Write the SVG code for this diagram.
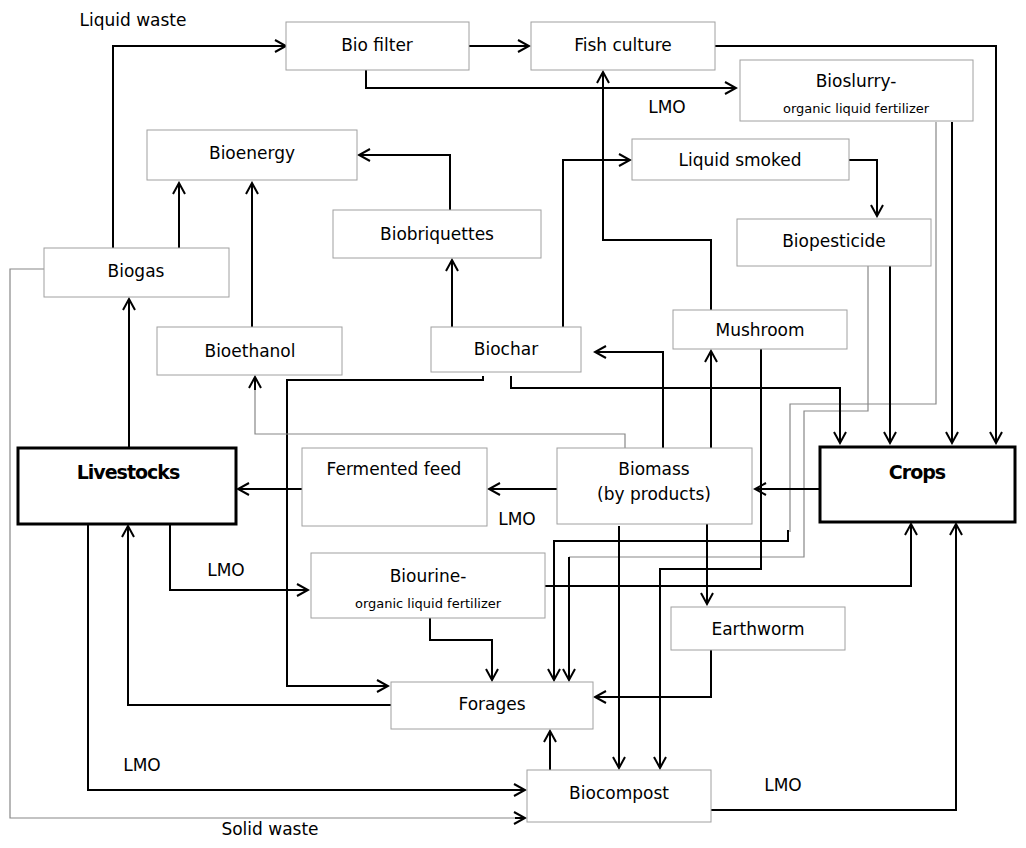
<svg xmlns="http://www.w3.org/2000/svg" width="1026" height="848" viewBox="0 0 1026 848">
<style>
.n rect{fill:#fff;stroke:#a0a0a0;stroke-width:1}
.b rect{fill:#fff;stroke:#000;stroke-width:3}
text{font-family:"DejaVu Sans",Verdana,sans-serif;font-size:17px;fill:#000;text-anchor:middle}
.s{font-size:13px}
.bt{font-weight:bold;font-size:19px;letter-spacing:-1px}
.c path{fill:none;stroke:#000;stroke-width:2}
.c path.g{stroke:#888;stroke-width:1.2}
</style>
<defs><marker id="a" markerWidth="14" markerHeight="14" refX="12" refY="7" orient="auto" markerUnits="userSpaceOnUse"><path d="M1,1 L12,7 L1,13" fill="none" stroke="#000" stroke-width="2"/></marker></defs>
<g class="c">
<path d="M113,248 V46 H286" marker-end="url(#a)"/>
<path d="M469,46 H529" marker-end="url(#a)"/>
<path d="M366,70 V88 H736" marker-end="url(#a)"/>
<path d="M715,46 H996 V443" marker-end="url(#a)"/>
<path d="M952,122 V443" marker-end="url(#a)"/>
<path class="g" d="M936,122 V404 H790 V532"/>
<path d="M788,530 V541 H554 V680" marker-end="url(#a)"/>
<path class="g" d="M868,266 V411 H804 V557 H569"/>
<path d="M569,557 V680" marker-end="url(#a)"/>
<path d="M849,160 H877 V216" marker-end="url(#a)"/>
<path d="M890,266 V443" marker-end="url(#a)"/>
<path d="M711,310 V240 H603 V72" marker-end="url(#a)"/>
<path d="M563,327 V160 H630" marker-end="url(#a)"/>
<path d="M452,327 V260" marker-end="url(#a)"/>
<path d="M450,210 V155 H359" marker-end="url(#a)"/>
<path d="M179,248 V183" marker-end="url(#a)"/>
<path d="M252,327 V183" marker-end="url(#a)"/>
<path d="M129,448 V299" marker-end="url(#a)"/>
<path d="M511,376 V388 H840 V443" marker-end="url(#a)"/>
<path d="M483,376 V380 H287 V686 H388" marker-end="url(#a)"/>
<path class="g" d="M625,448 V434 H255 V378"/>
<path d="M255,390 V377" marker-end="url(#a)"/>
<path d="M663,448 V352 H595" marker-end="url(#a)"/>
<path d="M711,448 V351" marker-end="url(#a)"/>
<path d="M820,489 H755" marker-end="url(#a)"/>
<path d="M557,489 H489" marker-end="url(#a)"/>
<path d="M302,489 H238" marker-end="url(#a)"/>
<path d="M170,524 V590 H308" marker-end="url(#a)"/>
<path d="M545,586 H911 V524" marker-end="url(#a)"/>
<path d="M430,618 V640 H492 V680" marker-end="url(#a)"/>
<path d="M391,705 H128 V526" marker-end="url(#a)"/>
<path d="M88,524 V790 H525" marker-end="url(#a)"/>
<path d="M550,770 V731" marker-end="url(#a)"/>
<path d="M711,650 V697 H595" marker-end="url(#a)"/>
<path d="M707,524 V604" marker-end="url(#a)"/>
<path d="M619,526 V768" marker-end="url(#a)"/>
<path d="M761,349 V569 H660 V768" marker-end="url(#a)"/>
<path d="M711,810 H956 V524" marker-end="url(#a)"/>
<path class="g" d="M44,269 H10 V818 H520"/>
<path d="M515,818 H525" marker-end="url(#a)"/>
</g>
<g id="biofilter" class="n"><rect x="286" y="22" width="183" height="48"/><text x="377" y="51">Bio filter</text></g>
<g id="fish" class="n"><rect x="531" y="22" width="184" height="48"/><text x="623" y="51">Fish culture</text></g>
<g id="bioslurry" class="n"><rect x="740" y="60" width="233" height="61"/><text x="856" y="87">Bioslurry-</text><text class="s" x="856" y="113">organic liquid fertilizer</text></g>
<g id="bioenergy" class="n"><rect x="147" y="130" width="210" height="50"/><text x="252" y="159">Bioenergy</text></g>
<g id="liquidsmoked" class="n"><rect x="632" y="139" width="217" height="41"/><text x="740" y="166">Liquid smoked</text></g>
<g id="biobriquettes" class="n"><rect x="333" y="210" width="208" height="48"/><text x="437" y="240">Biobriquettes</text></g>
<g id="biopesticide" class="n"><rect x="737" y="219" width="194" height="47"/><text x="834" y="247">Biopesticide</text></g>
<g id="biogas" class="n"><rect x="44" y="248" width="185" height="49"/><text x="136" y="277">Biogas</text></g>
<g id="mushroom" class="n"><rect x="673" y="310" width="174" height="39"/><text x="760" y="336">Mushroom</text></g>
<g id="bioethanol" class="n"><rect x="157" y="327" width="185" height="48"/><text x="250" y="357">Bioethanol</text></g>
<g id="biochar" class="n"><rect x="431" y="327" width="150" height="45"/><text x="506" y="355">Biochar</text></g>
<g id="livestocks" class="b"><rect x="18" y="448" width="218" height="76"/><text class="bt" x="128" y="479">Livestocks</text></g>
<g id="fermented" class="n"><rect x="302" y="448" width="185" height="78"/><text x="394" y="475">Fermented feed</text></g>
<g id="biomass" class="n"><rect x="557" y="448" width="195" height="76"/><text x="654" y="475">Biomass</text><text x="654" y="500">(by products)</text></g>
<g id="crops" class="b"><rect x="820" y="447" width="195" height="75"/><text class="bt" x="917" y="479">Crops</text></g>
<g id="biourine" class="n"><rect x="311" y="553" width="234" height="65"/><text x="428" y="582">Biourine-</text><text class="s" x="428" y="608">organic liquid fertilizer</text></g>
<g id="earthworm" class="n"><rect x="671" y="607" width="174" height="43"/><text x="758" y="635">Earthworm</text></g>
<g id="forages" class="n"><rect x="391" y="682" width="202" height="47"/><text x="492" y="710">Forages</text></g>
<g id="biocompost" class="n"><rect x="527" y="770" width="184" height="52"/><text x="619" y="799">Biocompost</text></g>
<g id="labels">
<text x="133" y="26">Liquid waste</text>
<text x="667" y="113">LMO</text>
<text x="517" y="525">LMO</text>
<text x="226" y="576">LMO</text>
<text x="142" y="771">LMO</text>
<text x="783" y="791">LMO</text>
<text x="270" y="835">Solid waste</text>
</g>
</svg>
